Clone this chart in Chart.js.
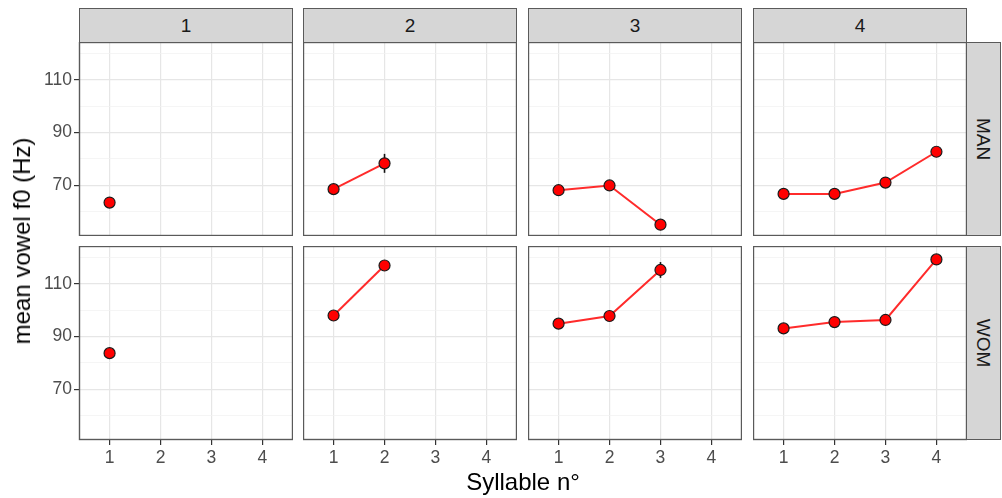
<!DOCTYPE html>
<html>
<head>
<meta charset="utf-8">
<script src="https://cdn.jsdelivr.net/npm/chart.js@4/dist/chart.umd.min.js"></script>
<style>
  body { margin: 0; background: #fff; }
  #wrap { position: relative; width: 1002px; height: 498px; overflow: hidden; background: #fff;
          font-family: "Liberation Sans", Arial, sans-serif; }
  canvas { position: absolute; }
  .strip { position: absolute; background: #d6d6d6; border: 1.3px solid #5a5a5a; box-sizing: border-box;
           color: #1a1a1a; font-size: 19px; display: flex; align-items: center; justify-content: center; }
  .strip.side span { display: inline-block; transform: rotate(90deg); }
  .title { position: absolute; color: #000; font-size: 24px; white-space: nowrap; }
</style>
</head>
<body>
<div id="wrap"></div>
<script>
// facet labels
var wordLengths = ['1', '2', '3', '4']
var groups = ['MAN', 'WOM']
var syllables = [1, 2, 3, 4]

// mean f0 per syllable, one list per word length
var manMeans = [[63.4], [68.5, 78.3], [68.1, 69.9, 55.0], [66.7, 66.7, 71.0, 82.7]]
var manErr = [[0.6], [0.8, 3.6], [1.5, 1.0, 1.0], [0.8, 0.6, 1.0, 1.0]]
var womMeans = [[83.7], [98.0, 117.0], [94.9, 97.8, 115.3], [93.1, 95.5, 96.3, 119.3]]
var womErr = [[0.6], [0.8, 1.2], [0.8, 0.8, 3.0], [1.8, 0.8, 0.8, 1.0]]

var yLabels = [70, 90, 110]
var yGrid = [60, 70, 80, 90, 100, 110, 120]
var yMin = 50.7, yMax = 124.4
var xMin = 0.4, xMax = 4.6

// panel geometry
var panelX = [79, 303, 528, 753]
var panelY = [42, 246]
var panelW = 214, panelH = 194
var axisH = 34
var FONT = '"Liberation Sans", Arial, sans-serif'

var wrap = document.getElementById('wrap')

var panelBorder = {
  id: 'panelBorder',
  afterDraw: function (chart) {
    var a = chart.chartArea, ctx = chart.ctx
    ctx.save()
    ctx.strokeStyle = '#5a5a5a'
    ctx.lineWidth = 1.4
    ctx.strokeRect(a.left + 0.5, a.top + 0.5, a.right - a.left - 1, a.bottom - a.top - 1)
    ctx.restore()
  }
}

var errorBars = {
  id: 'errorBars',
  beforeDatasetsDraw: function (chart, args, opts) {
    var ctx = chart.ctx, xs = chart.scales.x, ys = chart.scales.y
    var pts = chart.data.datasets[0].data
    ctx.save()
    ctx.strokeStyle = '#111'
    ctx.lineWidth = 1.6
    pts.forEach(function (p, i) {
      var e = opts.errors[i]
      var px = xs.getPixelForValue(p.x)
      ctx.beginPath()
      ctx.moveTo(px, ys.getPixelForValue(p.y - e))
      ctx.lineTo(px, ys.getPixelForValue(p.y + e))
      ctx.stroke()
    })
    ctx.restore()
  }
}

function isMajor(v) { return yLabels.indexOf(v) >= 0 }

function drawPanel(row, col) {
  var means = row == 0 ? manMeans[col] : womMeans[col]
  var errs = row == 0 ? manErr[col] : womErr[col]
  var leftW = col == 0 ? panelX[0] : 0
  var bottomH = row == 1 ? axisH : 0

  var canvas = document.createElement('canvas')
  canvas.width = panelW + leftW
  canvas.height = panelH + bottomH
  canvas.style.left = (panelX[col] - leftW) + 'px'
  canvas.style.top = panelY[row] + 'px'
  wrap.appendChild(canvas)

  var points = means.map(function (m, i) { return { x: syllables[i], y: m } })

  return new Chart(canvas, {
    type: 'line',
    data: {
      datasets: [{
        data: points,
        borderColor: '#ff2b2b',
        borderWidth: 2,
        pointRadius: 5.5,
        pointBorderWidth: 1.2,
        pointBackgroundColor: '#ff0000',
        pointBorderColor: '#1a1a1a',
        tension: 0,
        clip: false
      }]
    },
    options: {
      responsive: false,
      animation: false,
      layout: { padding: 0, autoPadding: false },
      plugins: {
        legend: { display: false },
        tooltip: { enabled: false },
        errorBars: { errors: errs }
      },
      scales: {
        x: {
          type: 'linear', min: xMin, max: xMax,
          afterBuildTicks: function (a) { a.ticks = syllables.map(function (v) { return { value: v } }) },
          afterFit: function (a) { a.height = bottomH; a.paddingLeft = 0; a.paddingRight = 0 },
          border: { display: false },
          grid: {
            color: '#e6e6e6', lineWidth: 1.2,
            drawTicks: row == 1, tickLength: 5, tickColor: '#333', tickWidth: 1.2
          },
          ticks: {
            display: row == 1, color: '#4d4d4d', padding: 3, maxRotation: 0,
            font: { size: 17.5, family: FONT }
          }
        },
        y: {
          type: 'linear', min: yMin, max: yMax,
          afterBuildTicks: function (a) { a.ticks = yGrid.map(function (v) { return { value: v } }) },
          afterFit: function (a) { a.width = leftW; a.paddingTop = 0; a.paddingBottom = 0 },
          border: { display: false },
          grid: {
            color: function (c) { return isMajor(c.tick.value) ? '#e6e6e6' : '#f0f0f0' },
            lineWidth: function (c) { return isMajor(c.tick.value) ? 1.2 : 0.7 },
            drawTicks: col == 0, tickLength: 5, tickWidth: 1.2,
            tickColor: function (c) { return isMajor(c.tick.value) ? '#333' : 'rgba(0,0,0,0)' }
          },
          ticks: {
            display: col == 0, color: '#4d4d4d', padding: 2,
            font: { size: 17.5, family: FONT },
            callback: function (v) { return isMajor(v) ? String(v) : '' }
          }
        }
      }
    },
    plugins: [errorBars, panelBorder]
  })
}

// top strips: number of syllables in the word
wordLengths.forEach(function (lab, c) {
  var s = document.createElement('div')
  s.className = 'strip'
  s.style.left = panelX[c] + 'px'
  s.style.top = '8px'
  s.style.width = panelW + 'px'
  s.style.height = (panelY[0] - 8 + 1) + 'px'
  s.textContent = lab
  wrap.appendChild(s)
})

// side strips: speaker group
groups.forEach(function (lab, r) {
  var s = document.createElement('div')
  s.className = 'strip side'
  s.style.left = (panelX[3] + panelW - 1) + 'px'
  s.style.top = panelY[r] + 'px'
  s.style.width = '35px'
  s.style.height = panelH + 'px'
  s.innerHTML = '<span>' + lab + '</span>'
  wrap.appendChild(s)
})

for (var r = 0; r < 2; r++) {
  for (var c = 0; c < 4; c++) drawPanel(r, c)
}

var yTitle = document.createElement('div')
yTitle.className = 'title'
yTitle.textContent = 'mean vowel f0 (Hz)'
yTitle.style.left = '22px'
yTitle.style.top = '241px'
yTitle.style.transform = 'translate(-50%, -50%) rotate(-90deg)'
wrap.appendChild(yTitle)

var xTitle = document.createElement('div')
xTitle.className = 'title'
xTitle.textContent = 'Syllable n°'
xTitle.style.left = '523px'
xTitle.style.top = '482px'
xTitle.style.transform = 'translate(-50%, -50%)'
wrap.appendChild(xTitle)
</script>
</body>
</html>
